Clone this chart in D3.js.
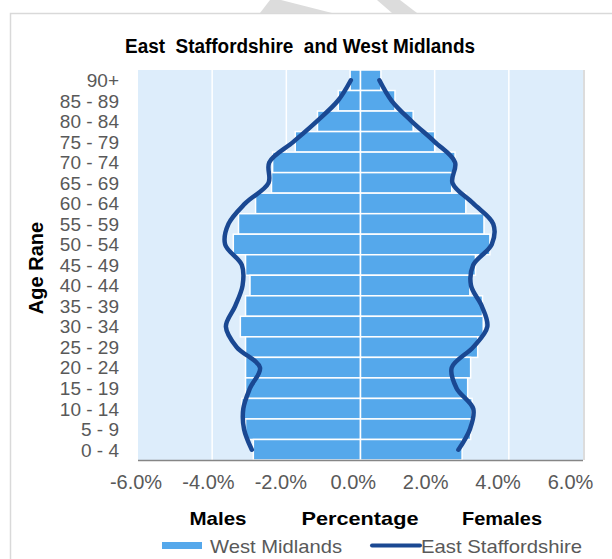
<!DOCTYPE html>
<meta charset="utf-8">
<head>
  <script src="https://d3js.org/d3.v7.min.js"></script>
  <style>
    body { margin: 0; background: #fff; }
    text { font-family: "Liberation Sans", Arial, sans-serif; }
  </style>
</head>
<body>
<svg id="chart"></svg>
<script>
  // age bands, top to bottom
  var ageGroups = ["90+", "85 - 89", "80 - 84", "75 - 79", "70 - 74", "65 - 69", "60 - 64",
                   "55 - 59", "50 - 54", "45 - 49", "40 - 44", "35 - 39", "30 - 34",
                   "25 - 29", "20 - 24", "15 - 19", "10 - 14", "5 - 9", "0 - 4"];

  // West Midlands (bars), % of population, males shown negative
  var wmMales   = [-0.28, -0.6, -1.16, -1.76, -2.37, -2.4, -2.83, -3.29, -3.43, -3.1,
                   -2.98, -3.1, -3.24, -3.1, -3.1, -3.1, -3.2, -3.1, -2.89];
  var wmFemales = [0.55, 0.93, 1.42, 2.0, 2.55, 2.46, 2.84, 3.33, 3.49, 3.1,
                   2.95, 3.29, 3.31, 3.16, 2.97, 2.89, 3.01, 2.97, 2.74];

  // East Staffordshire (line)
  var esMales   = [-0.26, -0.61, -1.18, -1.81, -2.46, -2.48, -3.11, -3.56, -3.65, -3.2,
                   -3.18, -3.38, -3.63, -3.34, -2.71, -2.98, -3.16, -3.14, -2.93];
  var esFemales = [0.51, 0.84, 1.38, 2.0, 2.55, 2.48, 3.04, 3.58, 3.54, 3.04,
                   2.98, 3.27, 3.42, 3.04, 2.46, 2.59, 3.04, 2.95, 2.64];

  var xTicks = [-6, -4, -2, 0, 2, 4, 6];

  var W = 612, H = 559;
  var plot = {left: 138, right: 583, top: 70, bottom: 460};
  var barColor = "#55a8eb", lineColor = "#1a4892", textGrey = "#595959";

  var svg = d3.select("#chart").attr("width", W).attr("height", H);

  // faint watermark strokes at top edge
  var marks = [[[260,13],[270,0],[281,0],[332,13]], [[377,0],[400,0],[417,13],[392,13]]];
  svg.selectAll(".wm").data(marks).enter().append("polygon")
    .attr("points", function(d){ return d.join(" "); })
    .attr("fill", "#dcdcdc");

  // outer chart border (top + left visible)
  svg.append("path")
    .attr("d", "M10.5,559 L10.5,13.5 L612,13.5")
    .attr("fill", "none").attr("stroke", "#d9d9d9").attr("stroke-width", 1.5);

  var x = d3.scaleLinear().domain([-6, 6]).range([plot.left, plot.right]);
  var y = d3.scaleBand().domain(ageGroups).range([plot.top, plot.bottom]);
  // tick labels in the picture sit on a slightly narrower spread
  var xLab = d3.scaleLinear().domain([-6, 6]).range([135.5, 570]);

  // plot background
  svg.append("rect")
    .attr("x", plot.left).attr("y", plot.top)
    .attr("width", plot.right - plot.left).attr("height", plot.bottom - plot.top)
    .attr("fill", "#ddedfb");
  svg.append("line")
    .attr("x1", plot.right + 1).attr("x2", plot.right + 1)
    .attr("y1", plot.top).attr("y2", plot.bottom)
    .attr("stroke", "#d0d0d0").attr("stroke-width", 1.5);

  // vertical gridlines
  svg.selectAll(".grid").data(xTicks.slice(1, -1)).enter().append("line")
    .attr("x1", function(d){ return x(d); }).attr("x2", function(d){ return x(d); })
    .attr("y1", plot.top).attr("y2", plot.bottom)
    .attr("stroke", "#fff").attr("stroke-width", 1.5);

  // bars
  var bars = [];
  ageGroups.forEach(function(g, i){
    bars.push({age: g, v: wmMales[i]});
    bars.push({age: g, v: wmFemales[i]});
  });
  svg.selectAll(".bar").data(bars).enter().append("rect")
    .attr("class", "bar")
    .attr("x", function(d){ return x(Math.min(0, d.v)); })
    .attr("width", function(d){ return Math.abs(x(d.v) - x(0)); })
    .attr("y", function(d){ return y(d.age); })
    .attr("height", y.bandwidth())
    .attr("fill", barColor)
    .attr("stroke", "#fff").attr("stroke-width", 1.5);

  // East Staffordshire lines
  var line = d3.line()
    .x(function(d){ return x(d.v); })
    .y(function(d){ return y(d.age) + y.bandwidth() / 2; })
    .curve(d3.curveCatmullRom.alpha(0.5));
  [esMales, esFemales].forEach(function(series){
    var pts = ageGroups.map(function(g, i){ return {age: g, v: series[i]}; });
    svg.append("path").datum(pts)
      .attr("d", line)
      .attr("fill", "none")
      .attr("stroke", lineColor).attr("stroke-width", 4.5)
      .attr("stroke-linecap", "round");
  });

  // bottom axis line
  svg.append("line")
    .attr("x1", plot.left).attr("x2", plot.right)
    .attr("y1", plot.bottom + 0.5).attr("y2", plot.bottom + 0.5)
    .attr("stroke", "#868686").attr("stroke-width", 1.5);

  // x tick labels
  var xAxis = svg.append("g")
    .attr("transform", "translate(0," + plot.bottom + ")")
    .call(d3.axisBottom(xLab).tickValues(xTicks).tickSize(0).tickPadding(15)
      .tickFormat(function(d){ return (d < 0 ? "-" : "") + Math.abs(d).toFixed(1) + "%"; }));
  xAxis.select(".domain").remove();
  xAxis.selectAll("text")
    .attr("font-family", "Liberation Sans, Arial, sans-serif")
    .attr("font-size", 20).attr("fill", textGrey);

  // y tick labels
  var yAxis = svg.append("g")
    .attr("transform", "translate(" + plot.left + ",0)")
    .call(d3.axisLeft(y).tickSize(0).tickPadding(19));
  yAxis.select(".domain").remove();
  yAxis.selectAll("text")
    .attr("font-family", "Liberation Sans, Arial, sans-serif")
    .attr("font-size", 19).attr("fill", textGrey)
    .attr("dy", "0.36em");

  // title
  svg.append("text")
    .attr("x", 300).attr("y", 53)
    .attr("text-anchor", "middle")
    .attr("font-size", 20).attr("font-weight", "bold").attr("fill", "#000")
    .style("white-space", "pre")
    .attr("textLength", 350).attr("lengthAdjust", "spacingAndGlyphs")
    .text("East  Staffordshire  and West Midlands");

  // y axis title
  svg.append("text")
    .attr("transform", "translate(43,268) rotate(-90)")
    .attr("text-anchor", "middle")
    .attr("font-size", 20).attr("font-weight", "bold").attr("fill", "#000")
    .text("Age Rane");

  // bottom labels
  var bottomLabels = [{t: "Males", x: 218, w: 57}, {t: "Percentage", x: 360, w: 117}, {t: "Females", x: 502, w: 80}];
  svg.selectAll(".blab").data(bottomLabels).enter().append("text")
    .attr("x", function(d){ return d.x; }).attr("y", 525)
    .attr("text-anchor", "middle")
    .attr("font-size", 19).attr("font-weight", "bold").attr("fill", "#000")
    .attr("textLength", function(d){ return d.w; }).attr("lengthAdjust", "spacingAndGlyphs")
    .text(function(d){ return d.t; });

  // legend
  var lg = svg.append("g");
  lg.append("rect").attr("x", 162).attr("y", 542).attr("width", 40).attr("height", 7).attr("fill", barColor);
  lg.append("text").attr("x", 210).attr("y", 553)
    .attr("font-size", 19).attr("fill", textGrey)
    .attr("textLength", 132).attr("lengthAdjust", "spacingAndGlyphs")
    .text("West Midlands");
  lg.append("line").attr("x1", 372).attr("x2", 420).attr("y1", 545.5).attr("y2", 545.5)
    .attr("stroke", lineColor).attr("stroke-width", 4).attr("stroke-linecap", "round");
  lg.append("text").attr("x", 421).attr("y", 553)
    .attr("font-size", 19).attr("fill", textGrey)
    .attr("textLength", 161).attr("lengthAdjust", "spacingAndGlyphs")
    .text("East Staffordshire");
</script>
</body>
